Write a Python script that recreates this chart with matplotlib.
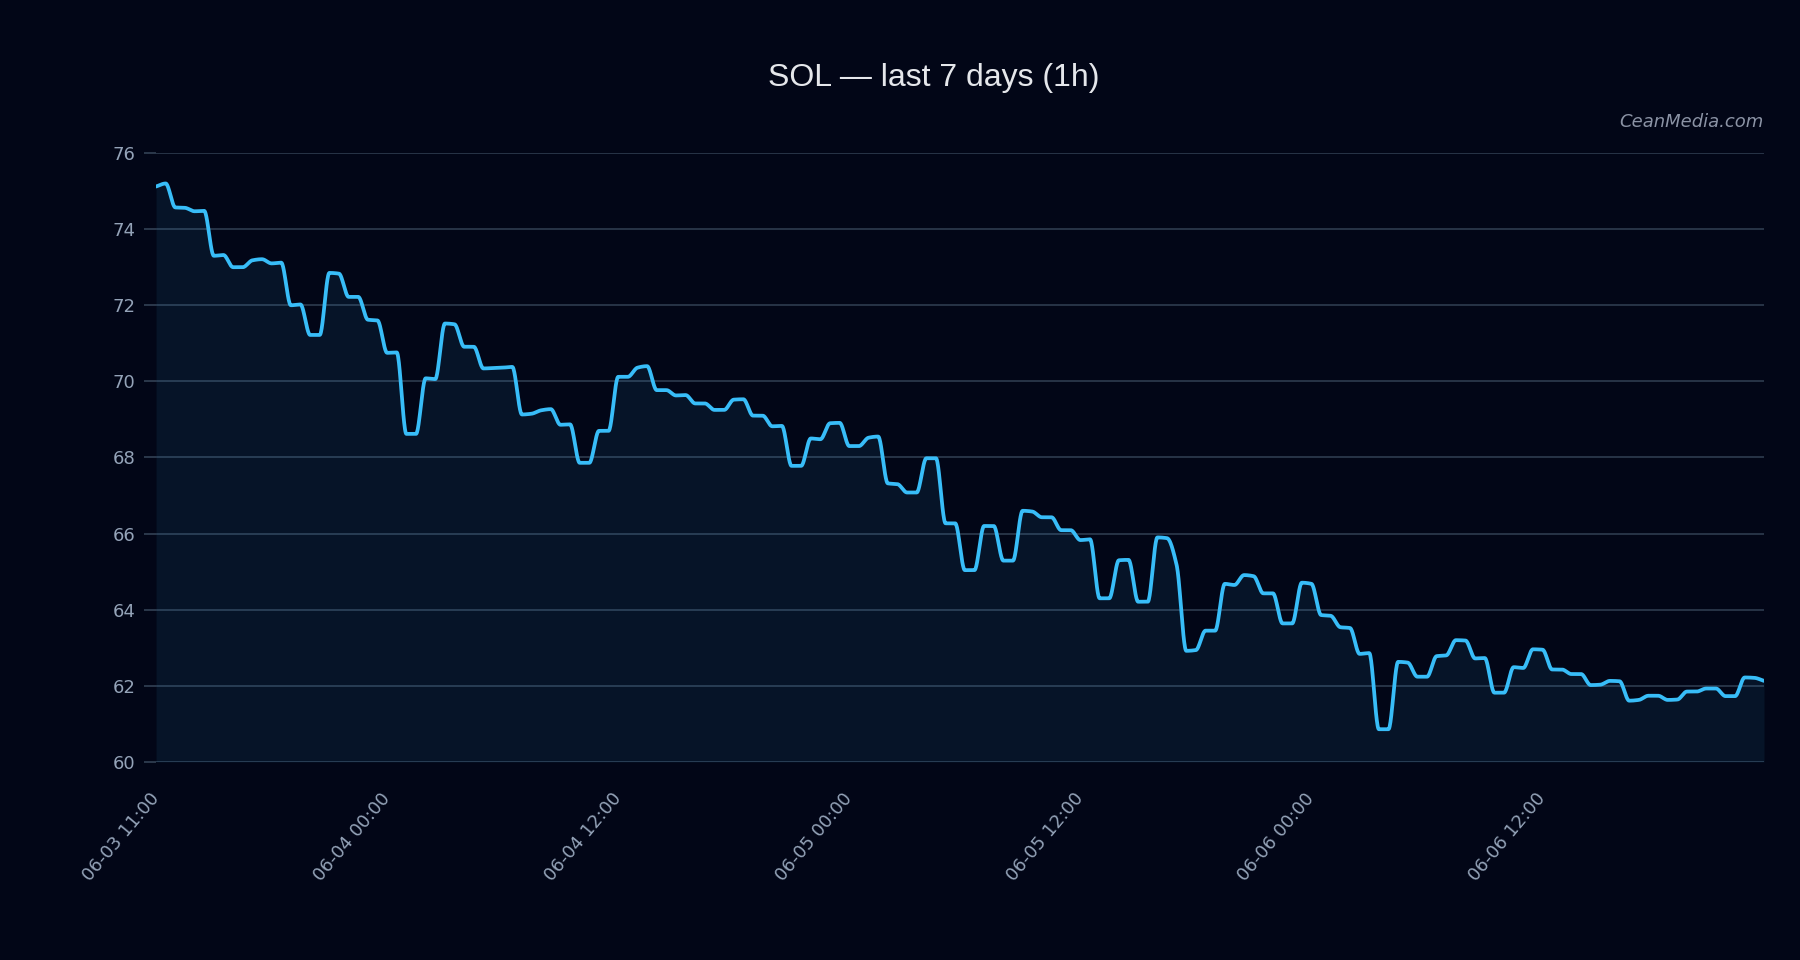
import numpy as np
import matplotlib.pyplot as plt

# hourly SOL closes
prices = [
    75.12, 75.20, 74.57, 74.56, 74.47, 74.48, 73.30, 73.32, 73.00, 73.00, 73.18, 73.21,
    73.10, 73.12, 72.00, 72.02, 71.22, 71.22, 72.85, 72.83, 72.22, 72.22, 71.62, 71.60,
    70.75, 70.76, 68.62, 68.62, 70.08, 70.06, 71.52, 71.50, 70.91, 70.91, 70.34, 70.35,
    70.36, 70.38, 69.13, 69.15, 69.24, 69.27, 68.86, 68.87, 67.86, 67.86, 68.70, 68.70,
    70.12, 70.12, 70.36, 70.40, 69.77, 69.77, 69.63, 69.64, 69.42, 69.42, 69.25, 69.25,
    69.52, 69.53, 69.10, 69.10, 68.82, 68.83, 67.78, 67.78, 68.50, 68.48, 68.90, 68.91,
    68.30, 68.30, 68.52, 68.55, 67.32, 67.30, 67.08, 67.08, 67.98, 67.98, 66.27, 66.27,
    65.04, 65.04, 66.20, 66.20, 65.29, 65.29, 66.60, 66.58, 66.43, 66.43, 66.09, 66.09,
    65.83, 65.85, 64.30, 64.30, 65.30, 65.31, 64.21, 64.21, 65.90, 65.88, 65.17, 62.92,
    62.94, 63.45, 63.45, 64.68, 64.65, 64.91, 64.88, 64.43, 64.43, 63.64, 63.64, 64.71,
    64.68, 63.86, 63.84, 63.54, 63.52, 62.84, 62.86, 60.86, 60.86, 62.63, 62.61, 62.24,
    62.24, 62.78, 62.80, 63.20, 63.19, 62.72, 62.73, 61.82, 61.82, 62.49, 62.47, 62.96,
    62.95, 62.43, 62.43, 62.31, 62.31, 62.02, 62.03, 62.13, 62.12, 61.61, 61.63, 61.74,
    61.74, 61.63, 61.64, 61.85, 61.85, 61.93, 61.93, 61.73, 61.73, 62.22, 62.21, 62.13,
]
tick_pos = [0, 24, 48, 72, 96, 120, 144]
tick_labels = ["06-03 11:00", "06-04 00:00", "06-04 12:00", "06-05 00:00",
               "06-05 12:00", "06-06 00:00", "06-06 12:00"]
y_ticks = [60, 62, 64, 66, 68, 70, 72, 74, 76]

BG = "#020617"
LINE = "#38bdf8"
GRID = "#334155"
MUTED = "#94a3b8"


def pchip(x, y, xs):
    # monotone cubic (Fritsch-Carlson), like a "monotone" curve in web charts
    h = np.diff(x)
    d = np.diff(y) / h
    m = np.zeros_like(y)
    for k in range(1, len(y) - 1):
        if d[k - 1] * d[k] > 0:
            w1 = 2 * h[k] + h[k - 1]
            w2 = h[k] + 2 * h[k - 1]
            m[k] = (w1 + w2) / (w1 / d[k - 1] + w2 / d[k])
    m[0], m[-1] = d[0], d[-1]
    i = np.clip(np.searchsorted(x, xs) - 1, 0, len(x) - 2)
    t = (xs - x[i]) / h[i]
    h00 = 2 * t**3 - 3 * t**2 + 1
    h10 = t**3 - 2 * t**2 + t
    h01 = -2 * t**3 + 3 * t**2
    h11 = t**3 - t**2
    return h00 * y[i] + h10 * h[i] * m[i] + h01 * y[i + 1] + h11 * h[i] * m[i + 1]


y = np.array(prices)
x = np.arange(len(y), dtype=float)
xs = np.linspace(0, x[-1], 4000)
ys = pchip(x, y, xs)

plt.rcParams["font.family"] = ["DejaVu Sans"]

fig = plt.figure(figsize=(18, 9.6), dpi=100, facecolor=BG)
ax = fig.add_axes([0.0867, 0.2063, 0.8933, 0.6343])
ax.set_facecolor(BG)

ax.fill_between(xs, ys, 60, color=LINE, alpha=0.08, linewidth=0)
ax.plot(xs, ys, color=LINE, lw=2.7, solid_capstyle="round")

ax.set_xlim(0, x[-1])
ax.set_ylim(60, 76)
ax.set_yticks(y_ticks)
ax.set_xticks(tick_pos)
ax.set_xticklabels(tick_labels, rotation=50, ha="right", va="center",
                   rotation_mode="anchor")
ax.grid(axis="y", color=GRID, lw=1.2, alpha=0.9)
ax.set_axisbelow(True)
for s in ax.spines.values():
    s.set_visible(False)
ax.tick_params(axis="y", colors=MUTED, labelsize=13, length=9, width=1.2, pad=6)
ax.tick_params(axis="y", color=GRID)
ax.tick_params(axis="x", colors=MUTED, labelsize=13, length=0, pad=24)

fig.text(934 / 1800, 1 - 86 / 960, "SOL \u2014 last 7 days (1h)", color="#e5e7eb",
         fontsize=23, family="Liberation Sans", ha="center", va="baseline")
fig.text(1764 / 1800, 1 - 127 / 960, "CeanMedia.com", color="#8b93a5",
         fontsize=13, style="italic", ha="right", va="baseline")

fig.savefig("out.png", dpi=100, facecolor=BG)
